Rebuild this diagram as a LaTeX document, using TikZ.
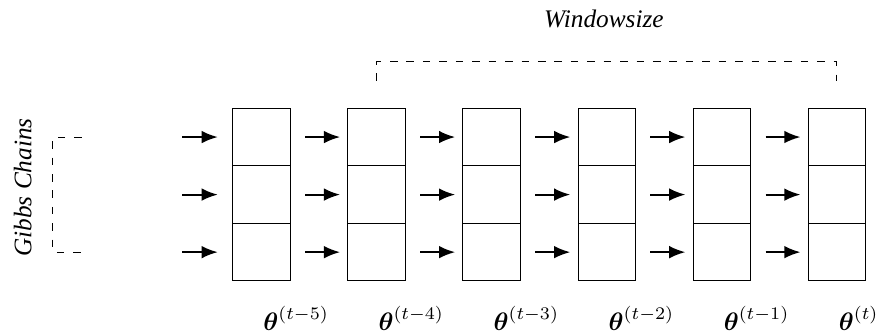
\documentclass[tikz,border=0pt]{standalone}
\usepackage{amsmath}
\usepackage{fontspec}
\setmainfont{Liberation Serif}
\usetikzlibrary{arrows.meta, positioning}

\begin{document}
\begin{tikzpicture}[
  cell/.style={draw, minimum width=0.8cm, minimum height=0.8cm, inner sep=0pt},
  arr/.style={-{Latex[length=6.4pt, width=5pt]}, thick, shorten <=0.2cm, shorten >=0.1cm},
  lbl/.style={anchor=base west, inner sep=0pt},
  brk/.style={dash pattern=on 3pt off 3.5pt}
]
\useasboundingbox (-3.635,-2.724) rectangle (8.584,1.905);
% sample columns
\node[cell] (t5a) at (0,0) {};
\node[cell] (t5b) at (0,-0.8) {};
\node[cell] (t5c) at (0,-1.6) {};
\node[cell] (t4a) at (1.6,0) {};
\node[cell] (t4b) at (1.6,-0.8) {};
\node[cell] (t4c) at (1.6,-1.6) {};
\node[cell] (t3a) at (3.2,0) {};
\node[cell] (t3b) at (3.2,-0.8) {};
\node[cell] (t3c) at (3.2,-1.6) {};
\node[cell] (t2a) at (4.8,0) {};
\node[cell] (t2b) at (4.8,-0.8) {};
\node[cell] (t2c) at (4.8,-1.6) {};
\node[cell] (t1a) at (6.4,0) {};
\node[cell] (t1b) at (6.4,-0.8) {};
\node[cell] (t1c) at (6.4,-1.6) {};
\node[cell] (t0a) at (8,0) {};
\node[cell] (t0b) at (8,-0.8) {};
\node[cell] (t0c) at (8,-1.6) {};
% labels
\node[lbl] (lbl5) at (0.02,-2.69) {$\boldsymbol{\theta}^{(t-5)}$};
\node[lbl] (lbl4) at (1.62,-2.69) {$\boldsymbol{\theta}^{(t-4)}$};
\node[lbl] (lbl3) at (3.22,-2.69) {$\boldsymbol{\theta}^{(t-3)}$};
\node[lbl] (lbl2) at (4.82,-2.69) {$\boldsymbol{\theta}^{(t-2)}$};
\node[lbl] (lbl1) at (6.42,-2.69) {$\boldsymbol{\theta}^{(t-1)}$};
\node[lbl] (lbl0) at (8.02,-2.69) {$\boldsymbol{\theta}^{(t)}$};
% incoming chains
\coordinate (ina) at (-1.1,0);
\coordinate (inb) at (-1.1,-0.8);
\coordinate (inc) at (-1.1,-1.6);
\draw[arr, shorten <=0pt, shorten >=0.2cm] (ina) -- (t5a);
\draw[arr, shorten <=0pt, shorten >=0.2cm] (inb) -- (t5b);
\draw[arr, shorten <=0pt, shorten >=0.2cm] (inc) -- (t5c);
\draw[arr] (t5a) -- (t4a);
\draw[arr] (t5b) -- (t4b);
\draw[arr] (t5c) -- (t4c);
\draw[arr] (t4a) -- (t3a);
\draw[arr] (t4b) -- (t3b);
\draw[arr] (t4c) -- (t3c);
\draw[arr] (t3a) -- (t2a);
\draw[arr] (t3b) -- (t2b);
\draw[arr] (t3c) -- (t2c);
\draw[arr] (t2a) -- (t1a);
\draw[arr] (t2b) -- (t1b);
\draw[arr] (t2c) -- (t1c);
\draw[arr] (t1a) -- (t0a);
\draw[arr] (t1b) -- (t0b);
\draw[arr] (t1c) -- (t0c);
% brackets
\draw[brk] (1.6,0.78) -- (1.6,1.05) -- (8,1.05) -- (8,0.78);
\node[anchor=base, inner sep=0pt] (win) at (4.76,1.523) {\textit{Windowsize}};
\draw[brk] (-2.5,0) -- (-2.9,0) -- (-2.9,-1.6) -- (-2.5,-1.6);
\node[rotate=90, anchor=base, inner sep=0pt] (gibbs) at (-3.2,-0.7) {\textit{Gibbs Chains}};
\end{tikzpicture}
\end{document}
